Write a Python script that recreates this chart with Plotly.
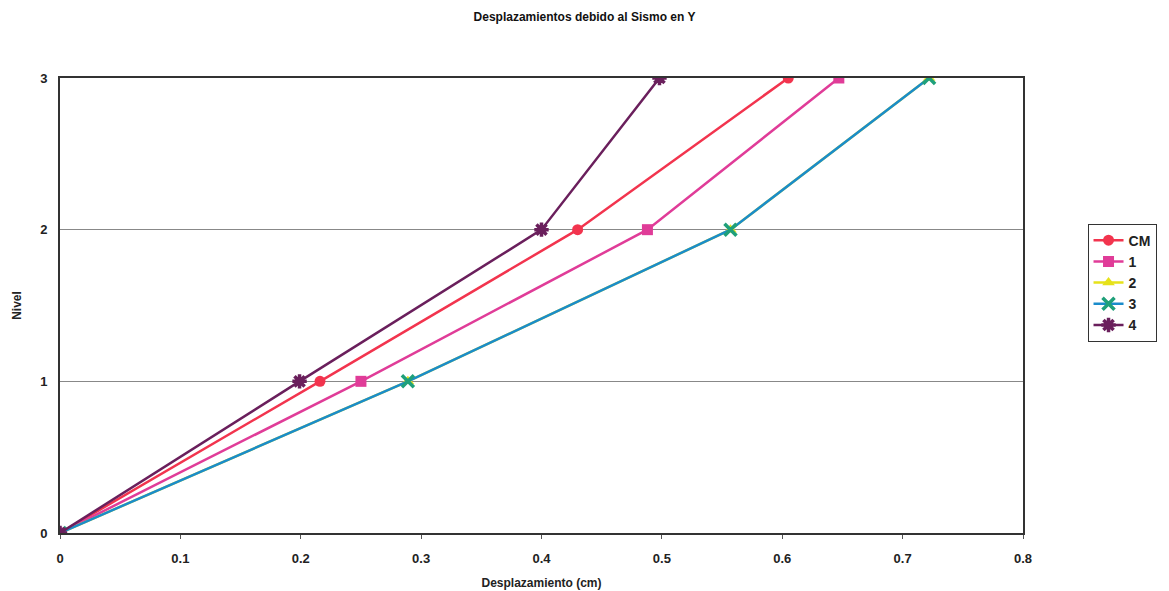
import plotly.graph_objects as go

niveles = [0, 1, 2, 3]
series_names = ["CM", "1", "2", "3", "4"]
cm = [0, 0.216, 0.430, 0.605]
s1 = [0, 0.250, 0.488, 0.647]
s2 = [0, 0.289, 0.557, 0.722]
s3 = [0, 0.289, 0.557, 0.722]
s4 = [0, 0.199, 0.400, 0.498]

x_ticks = [0, 0.1, 0.2, 0.3, 0.4, 0.5, 0.6, 0.7, 0.8]
x_labels = ["0", "0.1", "0.2", "0.3", "0.4", "0.5", "0.6", "0.7", "0.8"]
y_ticks = [0, 1, 2, 3]
y_labels = ["0", "1", "2", "3"]

colors = ["#F2344E", "#E03C98", "#E6E21A", "#1A8CCB", "#6A1F5C"]
symbols = ["circle", "square", "triangle-up", "x-thin", "asterisk"]
data = [cm, s1, s2, s3, s4]

fig = go.Figure()
for name, vals, c, sym in zip(series_names, data, colors, symbols):
    mk = dict(color=c, size=11, symbol=sym)
    if sym in ("x-thin", "asterisk"):
        mk = dict(color=c, size=12, symbol=sym, line=dict(color=c, width=3.5))
    if name == "3":
        mk = dict(color="#1FA07A", size=12, symbol=sym, line=dict(color="#1FA07A", width=3.5))
    fig.add_trace(go.Scatter(
        x=vals, y=niveles, name="<b>" + name + "</b>", mode="lines+markers",
        line=dict(color=c, width=2.5), marker=mk))

font = "Liberation Sans, Arial, sans-serif"
fig.update_layout(
    width=1169, height=591,
    margin=dict(l=60, r=146, t=78, b=58, autoexpand=False),
    paper_bgcolor="white", plot_bgcolor="white",
    font=dict(family=font, size=12, color="#222222"),
    title=dict(text="<b>Desplazamientos debido al Sismo en Y</b>", x=0.5, xanchor="center",
               y=0.972, yanchor="middle", font=dict(size=12, color="#111111")),
    xaxis=dict(range=[0, 0.8], tickvals=x_ticks, ticktext=["<b>" + t + "</b>" for t in x_labels],
               showgrid=False, zeroline=False,
               showline=True, linecolor="#333333", linewidth=2, mirror=True,
               ticks="outside", ticklen=4, tickcolor="#555555", ticklabelstandoff=8,
               tickfont=dict(size=13, family=font),
               title=dict(text="<b>Desplazamiento (cm)</b>", font=dict(size=12), standoff=14)),
    yaxis=dict(range=[0, 3], tickvals=y_ticks, ticktext=["<b>" + t + "</b>" for t in y_labels],
               showgrid=True, gridcolor="#888888", gridwidth=1,
               zeroline=False, showline=True, linecolor="#333333", linewidth=2, mirror=True,
               ticks="", tickfont=dict(size=13, family=font), ticklabelstandoff=8,
               title=dict(text="<b>Nivel</b>", font=dict(size=12), standoff=16)),
    legend=dict(x=1.067, y=0.68, xanchor="left", yanchor="top",
                bordercolor="#333333", borderwidth=1, bgcolor="white",
                font=dict(size=14, family=font), tracegroupgap=0, itemwidth=30),
    showlegend=True,
)
fig.write_html("out.html")
